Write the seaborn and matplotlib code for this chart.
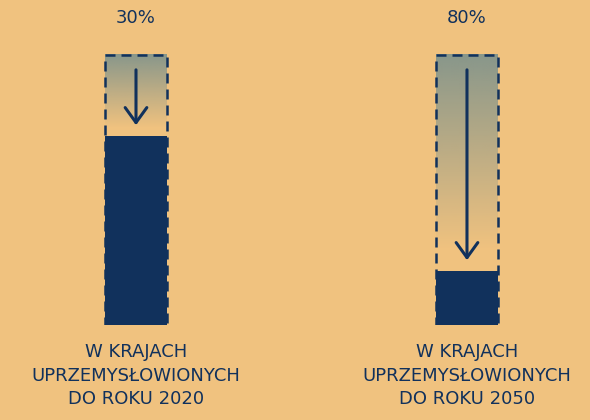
import numpy as np
import pandas as pd
import matplotlib
matplotlib.use("Agg")
import matplotlib.pyplot as plt
import seaborn as sns

# data
labels = ["W KRAJACH\nUPRZEMYSŁOWIONYCH\nDO ROKU 2020",
          "W KRAJACH\nUPRZEMYSŁOWIONYCH\nDO ROKU 2050"]
reduction = [30, 80]          # percent cut
full = [100, 100]
remaining = [100 - r for r in reduction]

bg = "#f0c27f"
navy = "#11315c"
teal = np.array([110, 140, 142]) / 255

sns.set_theme(style="white")
plt.rcParams["font.family"] = ["DejaVu Sans"]

df = pd.DataFrame({"label": labels, "full": full, "remaining": remaining})

fig = plt.figure(figsize=(5.9, 4.2), dpi=100, facecolor=bg)
ax = fig.add_axes([0.03415, 0.2262, 0.9537, 0.6686])
ax.set_facecolor(bg)

bw = 0.187
# gradient "lost" part, fading towards the remaining bar
for i, r in enumerate(remaining):
    ys = np.linspace(100, r, 200)
    d = (100 - ys) / ((100 - r) * 0.9)
    alpha = 0.8 * np.clip(1 - d, 0, 1)
    img = np.zeros((200, 1, 4))
    img[:, 0, :3] = teal
    img[:, 0, 3] = alpha
    ax.imshow(img, extent=[i - bw / 2, i + bw / 2, r, 100], aspect="auto",
              origin="upper", zorder=1, interpolation="bilinear")

# dashed outline of the full bar
sns.barplot(data=df, x="label", y="full", ax=ax, fill=False, color=navy,
            width=bw, linewidth=1.8, linestyle=(0, (4, 2.4)), errorbar=None,
            zorder=2)
# remaining part
sns.barplot(data=df, x="label", y="remaining", ax=ax, color=navy,
            saturation=1, width=bw, errorbar=None, linewidth=0, zorder=3)

for i, (r, red) in enumerate(zip(remaining, reduction)):
    ax.annotate("", xy=(i, r + 4), xytext=(i, 94.5),
                arrowprops=dict(arrowstyle="->,head_width=0.65,head_length=0.9",
                                lw=2.2, color=navy, shrinkA=0, shrinkB=0),
                zorder=4)
    ax.text(i, 113.7, f"{red}%", ha="center", va="center", fontsize=13,
            color=navy)

ax.set_xlim(-0.35, 1.35)
ax.set_ylim(0, 104)
ax.set_xlabel("")
ax.set_ylabel("")
ax.set_yticks([])
sns.despine(ax=ax, left=True, bottom=True)
ax.tick_params(axis="x", length=0, pad=13)
for t in ax.get_xticklabels():
    t.set_fontsize(13)
    t.set_color(navy)
    t.set_linespacing(1.4)
    t.set_va("top")

fig.savefig("out.png", dpi=100, facecolor=bg)
